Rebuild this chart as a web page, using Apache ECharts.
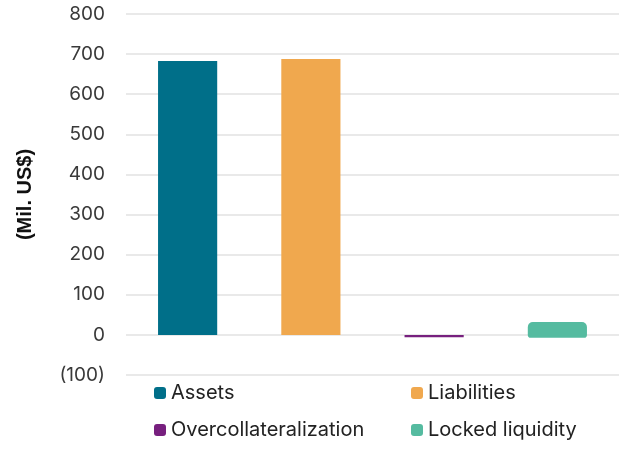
<!DOCTYPE html>
<html>
<head>
<meta charset="utf-8">
<script src="https://cdn.jsdelivr.net/npm/echarts@6/dist/echarts.min.js"></script>
<style>html,body{margin:0;padding:0;background:#fff}#c{width:625px;height:449px}</style>
</head>
<body>
<div id="c"></div>
<script>
const categories = ['Assets', 'Liabilities', 'Overcollateralization', 'Locked liquidity'];
// bar bottom and top values (Mil. US$)
const barLow = [0, 0, -6, -7];
const barHigh = [683, 688, 0, 32];
const colors = ['#006f89', '#f0a84e', '#77207e', '#55bba0'];
const yTicks = { min: -100, max: 800, interval: 100 };

const series = [];
categories.forEach((name, i) => {
  const parts = [];
  if (barHigh[i] !== 0) parts.push({ v: barHigh[i], r: [5, 5, 0, 0] });
  if (barLow[i] !== 0) parts.push({ v: barLow[i], r: [0, 0, 5, 5] });
  parts.forEach((p) => {
    const item = { color: colors[i] };
    if (i === 3) item.borderRadius = p.r;
    series.push({
      name: name, type: 'bar', barGap: '-100%', barWidth: '48%',
      data: categories.map((c, j) => (j === i ? p.v : '-')),
      itemStyle: item, emphasis: { disabled: true }
    });
  });
});

const chart = echarts.init(document.getElementById('c'));
const legendText = { fontFamily: 'Inter', fontSize: 20, color: '#222' };
chart.setOption({
  animation: false,
  grid: { left: 126, right: 6, top: 14, bottom: 74 },
  xAxis: {
    type: 'category', data: categories,
    axisLine: { show: false }, axisTick: { show: false }, axisLabel: { show: false }
  },
  yAxis: {
    type: 'value', min: yTicks.min, max: yTicks.max, interval: yTicks.interval,
    name: '(Mil. US$)', nameLocation: 'middle', nameGap: 91,
    nameTextStyle: { fontFamily: 'Liberation Sans', fontWeight: 'bold', fontSize: 20, color: '#111' },
    axisLabel: {
      margin: 21, fontFamily: 'Inter', fontSize: 19, color: '#3a3a3a',
      formatter: v => (v < 0 ? '(' + Math.abs(v) + ')' : String(v))
    },
    splitLine: { lineStyle: { color: '#e2e2e2', width: 1.5 } }
  },
  legend: [
    { orient: 'vertical', left: 154, top: 383, padding: 0, itemGap: 17, itemWidth: 12, itemHeight: 12, itemTextGap: 5,
      data: ['Assets', 'Overcollateralization'], textStyle: legendText, selectedMode: false },
    { orient: 'vertical', left: 411, top: 383, padding: 0, itemGap: 17, itemWidth: 12, itemHeight: 12, itemTextGap: 5,
      data: ['Liabilities', 'Locked liquidity'], textStyle: legendText, selectedMode: false }
  ],
  series: series
});
</script>
</body>
</html>
